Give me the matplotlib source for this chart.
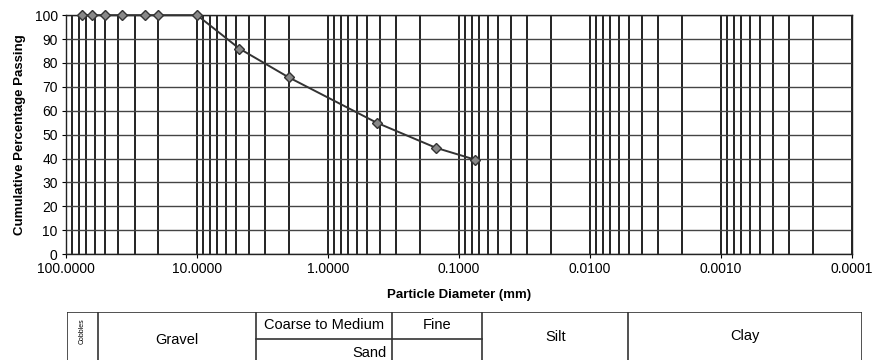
import numpy as np
import matplotlib.pyplot as plt
from matplotlib.ticker import FixedLocator, FormatStrFormatter

plt.rcParams['font.family'] = ['Liberation Sans', 'DejaVu Sans']

# sieve data
diameter_mm = [75, 63, 50, 37.5, 25, 20, 10, 4.75, 2.0, 0.425, 0.15, 0.075]
pct_passing = [100, 100, 100, 100, 100, 100, 100, 86, 74, 55, 44.5, 39.5]

x_ticks = [100, 10, 1, 0.1, 0.01, 0.001, 0.0001]
y_ticks = list(range(0, 101, 10))

# soil classification table below the chart
col_edges = [0.0, 0.039, 0.238, 0.409, 0.522, 0.706, 1.0]

fig = plt.figure(figsize=(8.72, 3.6), dpi=100)
ax = fig.add_axes([0.0757, 0.294, 0.9013, 0.664])

ax.set_xscale('log')
ax.set_xlim(100, 0.0001)
ax.set_ylim(0, 100)

# vertical grid at every 1..9 x 10^n
minors = []
for e in range(-4, 2):
    for m in range(2, 10):
        minors.append(m * 10.0 ** e)
ax.xaxis.set_major_locator(FixedLocator(x_ticks))
ax.xaxis.set_minor_locator(FixedLocator(minors))
ax.xaxis.set_major_formatter(FormatStrFormatter('%.4f'))
ax.xaxis.set_minor_formatter(plt.NullFormatter())
ax.set_yticks(y_ticks)

ax.grid(True, which='major', axis='x', color='#111111', lw=1.3)
ax.grid(True, which='minor', axis='x', color='#111111', lw=1.3)
ax.grid(True, which='major', axis='y', color='#444444', lw=1.0)
ax.tick_params(axis='both', which='both', length=3, labelsize=10, pad=3)
ax.tick_params(axis='x', which='minor', length=0)
for s in ax.spines.values():
    s.set_color('#222222')
    s.set_linewidth(1.0)

ax.plot(diameter_mm, pct_passing, color='#333333', lw=1.4, marker='D',
        ms=5, mfc='#888888', mec='#333333', mew=1.0, zorder=5, clip_on=False)

ax.set_xlabel('Particle Diameter (mm)', fontsize=9.5, fontweight='bold', labelpad=9)
ax.set_ylabel('Cumulative Percentage Passing', fontsize=9.5, fontweight='bold', labelpad=6)

# classification table
tb = fig.add_axes([0.0768, -0.02, 0.912, 0.1533])
tb.set_xlim(0, 1)
tb.set_ylim(0, 1)
tb.axis('off')
lc = '#333333'
tb.plot([0, 1], [1, 1], color=lc, lw=1.2)
for xe in col_edges:
    tb.plot([xe, xe], [0, 1], color=lc, lw=1.2)
tb.plot([col_edges[2], col_edges[4]], [0.51, 0.51], color=lc, lw=1.2)

def mid(i, j):
    return (col_edges[i] + col_edges[j]) / 2

tb.text(mid(0, 1), 0.66, 'Cobbles', rotation=90, ha='center', va='center', fontsize=5)
tb.text(mid(1, 2), 0.50, 'Gravel', ha='center', va='center', fontsize=10.5)
tb.text(mid(2, 3), 0.76, 'Coarse to Medium', ha='center', va='center', fontsize=10.5)
tb.text(mid(3, 4), 0.76, 'Fine', ha='center', va='center', fontsize=10.5)
tb.text(mid(2, 4), 0.26, 'Sand', ha='center', va='center', fontsize=10.5)
tb.text(mid(4, 5), 0.54, 'Silt', ha='center', va='center', fontsize=10.5)
tb.text(mid(5, 6), 0.56, 'Clay', ha='center', va='center', fontsize=10.5)

fig.savefig('out.png', dpi=100)
